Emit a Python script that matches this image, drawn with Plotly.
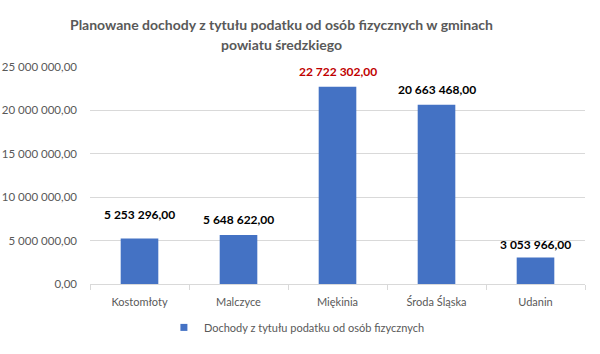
import plotly.graph_objects as go

categories = ["Kostomłoty", "Malczyce", "Miękinia", "Środa Śląska", "Udanin"]
values = [5253296.00, 5648622.00, 22722302.00, 20663468.00, 3053966.00]
label_texts = ["5 253 296,00", "5 648 622,00", "22 722 302,00", "20 663 468,00", "3 053 966,00"]
label_colors = ["#000000", "#000000", "#C00000", "#000000", "#000000"]
label_shifts = [14, 6, 6, 6, 3]
tick_vals = [0, 5000000, 10000000, 15000000, 20000000, 25000000]
tick_text = ["0,00", "5 000 000,00", "10 000 000,00", "15 000 000,00", "20 000 000,00", "25 000 000,00"]
series_name = "Dochody z tytułu podatku od osób fizycznych"
title_lines = ["Planowane dochody z tytułu podatku od osób fizycznych w gminach", "powiatu średzkiego"]
title_shifts = [43, 23]

FONT = "Lato"
GRAY = "#595959"
BAR = "#4472C4"

fig = go.Figure()
fig.add_trace(go.Bar(
    x=categories, y=values, name=series_name,
    marker=dict(color=BAR, line=dict(width=0)),
    hoverinfo="skip", showlegend=False,
))
# legend entry with a small square key, like the reference
fig.add_trace(go.Scatter(
    x=[None], y=[None], mode="markers", name=series_name,
    marker=dict(symbol="square", size=7, color=BAR),
    showlegend=True, hoverinfo="skip",
))

for c, v, t, col, s in zip(categories, values, label_texts, label_colors, label_shifts):
    fig.add_annotation(x=c, y=v, text="<b>%s</b>" % t, showarrow=False,
                       yanchor="bottom", yshift=s,
                       font=dict(family=FONT, size=12, color=col))

fig.update_layout(
    width=600, height=354,
    margin=dict(l=90, r=15, t=67, b=68),
    paper_bgcolor="white", plot_bgcolor="white",
    bargap=0.62,
    showlegend=True,
    legend=dict(orientation="h", x=0.418, xanchor="center", y=-0.2, yanchor="middle",
                font=dict(family=FONT, size=11, color=GRAY)),
    font=dict(family=FONT, color=GRAY),
)
for line, s in zip(title_lines, title_shifts):
    fig.add_annotation(xref="paper", yref="paper", x=(281 - 90) / 495, y=1,
                       yshift=s, yanchor="middle", xanchor="center", showarrow=False,
                       text="<b>%s</b>" % line,
                       font=dict(family=FONT, size=14, color=GRAY))

fig.update_yaxes(range=[0, 25000000], tickvals=tick_vals, ticktext=tick_text,
                 showgrid=True, gridcolor="#D9D9D9", gridwidth=1, zeroline=False,
                 showline=False, ticklabelstandoff=12, automargin=False,
                 tickfont=dict(family=FONT, size=11.5, color=GRAY), fixedrange=True)
fig.update_xaxes(showline=True, linecolor="#D9D9D9", linewidth=1,
                 ticks="outside", tickson="boundaries", ticklen=5, tickcolor="#D9D9D9",
                 ticklabelstandoff=8, automargin=False,
                 tickfont=dict(family=FONT, size=11, color=GRAY), fixedrange=True)

fig.write_html("out.html")
